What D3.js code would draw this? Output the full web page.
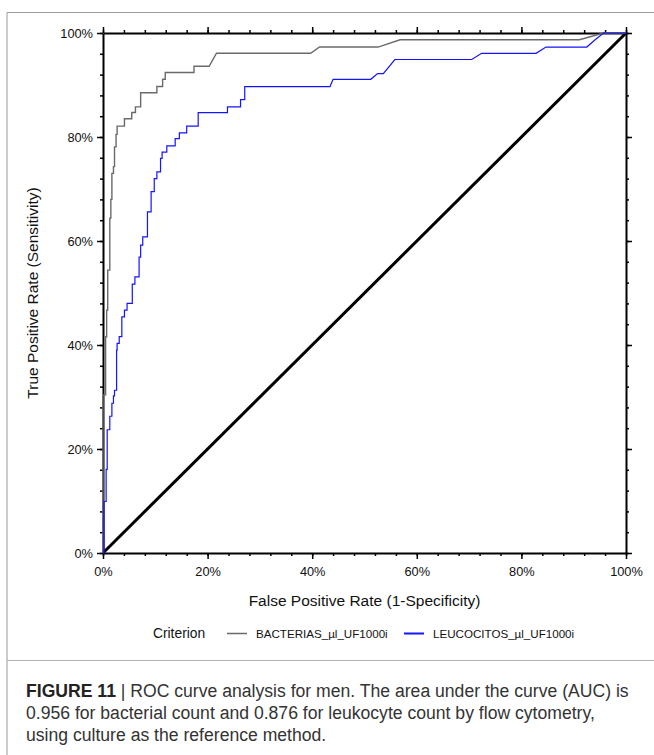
<!DOCTYPE html>
<html>
<head>
<meta charset="utf-8">
<script src="https://cdn.jsdelivr.net/npm/d3@7"></script>
<style>
  body { margin: 0; background: #fff; }
  text { font-family: "Liberation Sans", Arial, sans-serif; }
</style>
</head>
<body>
<div id="chart"></div>
<script>
// ROC points, as [FPR %, TPR %]
const bacteriaPoints = [
  [0, 0], [0, 30.4], [0.5, 30.4], [0.5, 41.6], [0.7, 41.6], [0.7, 46.7], [0.9, 46.7], [0.9, 54.4],
  [1.3, 54.4], [1.3, 64.4], [1.5, 64.4], [1.5, 68], [1.7, 68], [1.7, 73], [2.0, 73], [2.0, 74.3],
  [2.2, 74.3], [2.2, 78.1], [2.5, 78.1], [2.5, 80.5], [2.7, 80.5], [2.7, 82.1], [4.1, 82.1],
  [4.1, 83.5], [5.5, 83.5], [5.5, 84.7], [6.2, 84.7], [6.2, 85.8], [7.2, 85.8], [7.2, 88.5],
  [10.3, 88.5], [10.3, 89.7], [11.4, 89.7], [11.4, 91.1], [11.9, 91.1], [11.9, 92.4],
  [17.4, 92.4], [17.4, 93.6], [20.3, 93.6], [21.7, 96.1], [39.7, 96.1], [41.4, 97.3],
  [52.6, 97.3], [56.8, 98.7], [91.1, 98.7], [95.7, 100], [100, 100]
];

const leucocitosPoints = [
  [0, 0], [0.2, 0], [0.2, 9.9], [0.6, 9.9], [0.6, 16.1], [0.8, 16.1], [0.8, 23.7], [1.3, 23.7],
  [1.3, 26.3], [1.7, 26.3], [1.7, 28.8], [2.0, 28.8], [2.0, 30.2], [2.2, 30.2], [2.2, 31.3],
  [2.6, 31.3], [2.6, 39.0], [2.7, 39.0], [2.7, 40.3], [3.1, 40.3], [3.1, 41.6], [3.6, 41.6],
  [3.6, 45.4], [4.1, 45.4], [4.1, 46.7], [4.6, 46.7], [4.6, 48.0], [5.6, 48.0], [5.6, 51.7],
  [6.1, 51.7], [6.1, 53.1], [6.9, 53.1], [6.9, 56.9], [7.2, 56.9], [7.2, 59.2], [7.6, 59.2],
  [7.6, 60.8], [8.5, 60.8], [8.5, 65.6], [9.2, 65.6], [9.2, 69.5], [9.8, 69.5], [9.8, 72.0],
  [10.3, 72.0], [10.3, 73.3], [11.0, 73.3], [11.0, 75.9], [11.3, 75.9], [11.3, 77.1],
  [12.2, 77.1], [12.2, 78.3], [13.8, 78.3], [13.8, 79.7], [14.6, 79.7], [14.6, 80.8],
  [16.0, 80.8], [16.0, 82.1], [18.2, 82.1], [18.2, 84.7], [23.8, 84.7], [23.8, 85.8],
  [26.3, 85.8], [26.3, 87.2], [27.1, 87.2], [27.1, 89.7], [43.4, 89.7], [44.0, 91.1],
  [51.2, 91.1], [52.5, 92.2], [53.6, 92.2], [55.8, 94.9], [70.5, 94.9], [72.4, 96.1],
  [82.8, 96.1], [84.7, 97.3], [92.5, 97.3], [94.1, 98.7], [95.7, 100], [100, 100]
];

const referenceLine = [[0, 0], [100, 100]];

const majorTicks = [0, 20, 40, 60, 80, 100];
const minorTicks = d3.range(0, 101, 4);

const seriesNames = ['BACTERIAS_\u00b5l_UF1000i', 'LEUCOCITOS_\u00b5l_UF1000i'];
const seriesColors = ['#6a6a6a', '#1414ff'];

const captionLines = [
  ['FIGURE 11', ' | ROC curve analysis for men. The area under the curve (AUC) is'],
  ['', '0.956 for bacterial count and 0.876 for leukocyte count by flow cytometry,'],
  ['', 'using culture as the reference method.']
];

const W = 654, H = 755;
const plot = {left: 103, right: 626, top: 33, bottom: 553};

const svg = d3.select('#chart').append('svg')
  .attr('width', W)
  .attr('height', H);

// figure frame
svg.append('path')
  .attr('d', `M7,${H} L7,12.5 L${W},12.5`)
  .attr('fill', 'none')
  .attr('stroke', '#9a9a9a')
  .attr('stroke-width', 1);
svg.append('line')
  .attr('x1', 7).attr('x2', W)
  .attr('y1', 660.5).attr('y2', 660.5)
  .attr('stroke', '#b0b0b0')
  .attr('stroke-width', 1);

const x = d3.scaleLinear().domain([0, 100]).range([plot.left, plot.right]);
const y = d3.scaleLinear().domain([0, 100]).range([plot.bottom, plot.top]);

const fmt = d => d + '%';

function drawAxis(axisFn, scale, transform, labels) {
  // minor ticks
  svg.append('g')
    .attr('transform', transform)
    .call(axisFn(scale).tickValues(minorTicks).tickSize(3).tickFormat(''))
    .call(g => g.select('.domain').remove())
    .call(g => g.selectAll('line').attr('stroke', '#000').attr('stroke-width', 1.5));
  // major ticks + line
  const g = svg.append('g')
    .attr('transform', transform)
    .call(axisFn(scale).tickValues(majorTicks).tickSizeInner(6).tickSizeOuter(0)
      .tickPadding(4).tickFormat(labels ? fmt : ''));
  g.select('.domain').attr('stroke', '#000').attr('stroke-width', 2);
  g.selectAll('line').attr('stroke', '#000').attr('stroke-width', 1.5);
  g.selectAll('text').attr('font-size', 12.8).attr('fill', '#111')
    .style('font-family', '"Liberation Sans", Arial, sans-serif');
  return g;
}

drawAxis(d3.axisBottom, x, `translate(0,${plot.bottom})`, true)
  .selectAll('text').attr('dy', '1.0em');
drawAxis(d3.axisTop, x, `translate(0,${plot.top})`, false);
drawAxis(d3.axisLeft, y, `translate(${plot.left},0)`, true);
drawAxis(d3.axisRight, y, `translate(${plot.right},0)`, false);

const line = d3.line().x(d => x(d[0])).y(d => y(d[1]));

svg.append('path')
  .datum(referenceLine)
  .attr('d', line)
  .attr('fill', 'none')
  .attr('stroke', '#000')
  .attr('stroke-width', 3);

svg.append('path')
  .datum(bacteriaPoints)
  .attr('d', line)
  .attr('fill', 'none')
  .attr('stroke', seriesColors[0])
  .attr('stroke-width', 1.4);

svg.append('path')
  .datum(leucocitosPoints)
  .attr('d', line)
  .attr('fill', 'none')
  .attr('stroke', seriesColors[1])
  .attr('stroke-width', 1.2);

// axis titles
svg.append('text')
  .attr('x', (plot.left + plot.right) / 2)
  .attr('y', 606)
  .attr('text-anchor', 'middle')
  .attr('font-size', 15.5)
  .attr('fill', '#111')
  .text('False Positive Rate (1-Specificity)');

svg.append('text')
  .attr('transform', `translate(38,${(plot.top + plot.bottom) / 2}) rotate(-90)`)
  .attr('text-anchor', 'middle')
  .attr('font-size', 15.5)
  .attr('fill', '#111')
  .text('True Positive Rate (Sensitivity)');

// legend
const legend = svg.append('g').attr('transform', 'translate(0,633)');
legend.append('text')
  .attr('x', 153).attr('y', 5)
  .attr('font-size', 13.8)
  .attr('fill', '#111')
  .text('Criterion');
const legendX = [227, 404];
seriesNames.forEach((name, i) => {
  legend.append('line')
    .attr('x1', legendX[i]).attr('x2', legendX[i] + 20)
    .attr('y1', 0.5).attr('y2', 0.5)
    .attr('stroke', seriesColors[i])
    .attr('stroke-width', i === 0 ? 1.5 : 2);
  legend.append('text')
    .attr('x', legendX[i] + 29).attr('y', 4.5)
    .attr('font-size', 11.6)
    .attr('fill', '#111')
    .text(name);
});

// caption
captionLines.forEach((parts, i) => {
  const t = svg.append('text')
    .attr('x', 26)
    .attr('y', 697 + i * 22)
    .attr('font-size', 17.6)
    .attr('fill', '#333');
  if (parts[0]) t.append('tspan').attr('font-weight', 'bold').attr('fill', '#222').text(parts[0]);
  t.append('tspan').text(parts[1]);
});
</script>
</body>
</html>
